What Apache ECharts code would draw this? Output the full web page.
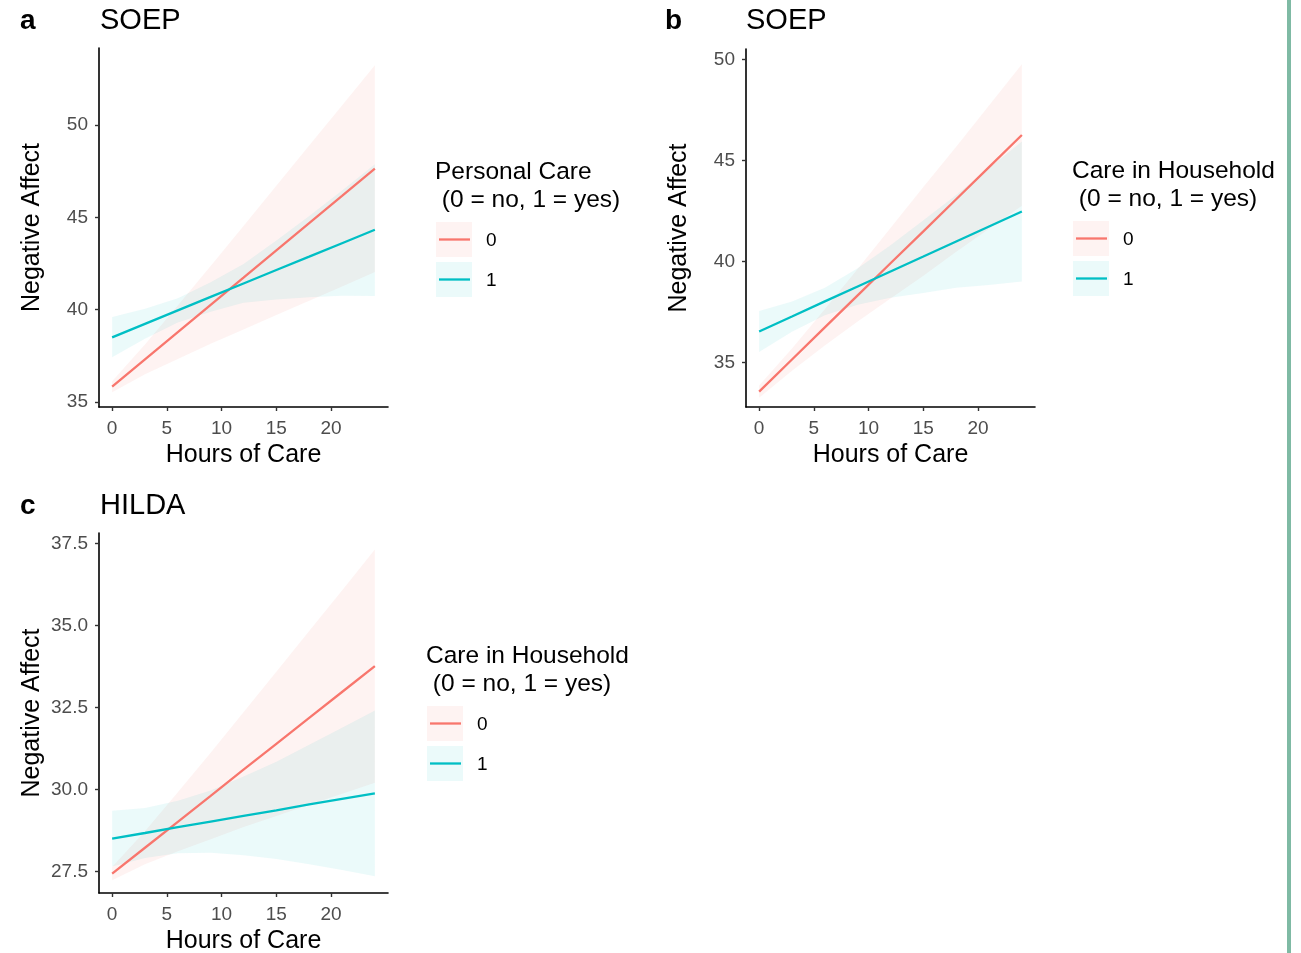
<!DOCTYPE html>
<html>
<head>
<meta charset="utf-8">
<script src="https://cdn.jsdelivr.net/npm/echarts@6/dist/echarts.min.js"></script>
<style>
  html, body { margin: 0; padding: 0; background: #fff; }
  #chart { width: 1301px; height: 953px; }
</style>
</head>
<body>
<div id="chart"></div>
<script>
// Hours of care at which the fitted lines and their confidence bands were read.
const HOURS = [0, 3, 6, 9, 12, 15, 18, 21, 24];

// Panel a: SOEP, personal care (0 = no, 1 = yes)
const A_FIT0 = [35.83, 37.31, 38.78, 40.26, 41.73, 43.21, 44.69, 46.16, 47.64];
const A_LO0  = [35.53, 36.51, 37.33, 38.16, 38.93, 39.71, 40.49, 41.26, 42.04];
const A_HI0  = [36.13, 38.11, 40.23, 42.36, 44.53, 46.71, 48.89, 51.06, 53.24];
const A_FIT1 = [38.50, 39.23, 39.96, 40.69, 41.42, 42.15, 42.87, 43.60, 44.33];
const A_LO1  = [37.43, 38.43, 39.30, 39.89, 40.37, 40.55, 40.67, 40.75, 40.74];
const A_HI1  = [39.60, 40.05, 40.62, 41.49, 42.47, 43.75, 45.07, 46.45, 47.88];

// Panel b: SOEP, care in household
const B_FIT0 = [33.56, 35.15, 36.74, 38.33, 39.92, 41.50, 43.09, 44.68, 46.27];
const B_LO0  = [33.26, 34.60, 35.84, 37.03, 38.17, 39.30, 40.49, 41.63, 42.77];
const B_HI0  = [33.86, 35.70, 37.64, 39.63, 41.67, 43.70, 45.69, 47.73, 49.77];
const B_FIT1 = [36.54, 37.28, 38.03, 38.77, 39.51, 40.25, 41.00, 41.74, 42.48];
const B_LO1  = [35.52, 36.53, 37.35, 37.87, 38.21, 38.45, 38.70, 38.84, 39.01];
const B_HI1  = [37.56, 38.03, 38.71, 39.67, 40.81, 42.05, 43.30, 44.64, 45.95];

// Panel c: HILDA, care in household
const C_FIT0 = [27.43, 28.22, 29.01, 29.80, 30.60, 31.39, 32.18, 32.97, 33.76];
const C_LO0  = [27.23, 27.72, 28.11, 28.48, 28.85, 29.19, 29.53, 29.87, 30.20];
const C_HI0  = [27.63, 28.72, 29.91, 31.12, 32.35, 33.59, 34.83, 36.07, 37.32];
const C_FIT1 = [28.50, 28.67, 28.85, 29.02, 29.19, 29.36, 29.54, 29.71, 29.88];
const C_LO1  = [27.65, 27.91, 28.05, 28.07, 27.99, 27.88, 27.72, 27.54, 27.35];
const C_HI1  = [29.35, 29.43, 29.65, 29.97, 30.39, 30.84, 31.36, 31.88, 32.41];

const X_TICKS = [0, 5, 10, 15, 20];
const A_Y_TICKS = [35, 40, 45, 50];
const B_Y_TICKS = [35, 40, 45, 50];
const C_Y_TICKS = [27.5, 30, 32.5, 35, 37.5];

const GROUPS = ["0", "1"];
const PANEL_LETTERS = ["a", "b", "c"];
const PANEL_TITLES = ["SOEP", "SOEP", "HILDA"];
const LEGEND_TITLES = ["Personal Care", "Care in Household", "Care in Household"];
const LEGEND_SUB = " (0 = no, 1 = yes)";

const RED = "#F8766D";
const TEAL = "#00BFC4";
const RED_FILL = "rgba(248,118,109,0.09)";
const TEAL_FILL = "rgba(0,191,196,0.08)";
const FONT = "'Liberation Sans', Arial, Helvetica, sans-serif";

const panels = [
  { grid: { left: 99, top: 48, width: 289, height: 359 }, y: [34.73, 54.17], ticks: A_Y_TICKS,
    fit: [A_FIT0, A_FIT1], lo: [A_LO0, A_LO1], hi: [A_HI0, A_HI1], dec: 0 },
  { grid: { left: 746, top: 49, width: 289, height: 358 }, y: [32.80, 50.53], ticks: B_Y_TICKS,
    fit: [B_FIT0, B_FIT1], lo: [B_LO0, B_LO1], hi: [B_HI0, B_HI1], dec: 0 },
  { grid: { left: 99, top: 533, width: 289, height: 360 }, y: [26.84, 37.82], ticks: C_Y_TICKS,
    fit: [C_FIT0, C_FIT1], lo: [C_LO0, C_LO1], hi: [C_HI0, C_HI1], dec: 1 },
];

const pairs = (ys) => HOURS.map((h, i) => [h, ys[i]]);

// One polygon per ribbon: walk the upper edge left to right, then the lower
// edge back, every vertex going through the axis scales via api.coord.
function ribbonItem(fill) {
  return (params, api) => {
    if (params.dataIndexInside !== 0) return null;
    const n = params.dataInsideLength;
    const upper = [], lower = [];
    for (let i = 0; i < n; i++) {
      upper.push(api.coord([api.value(0, i), api.value(2, i)]));
      lower.push(api.coord([api.value(0, i), api.value(1, i)]));
    }
    return {
      type: "polygon",
      shape: { points: upper.concat(lower.reverse()) },
      style: { fill },
      silent: true,
    };
  };
}

const grid = [], xAxis = [], yAxis = [], series = [];
panels.forEach((p, k) => {
  // outerBoundsMode off: the grids are placed by hand and must not shrink
  grid.push({ ...p.grid, outerBoundsMode: "none" });
  xAxis.push({
    type: "value", gridIndex: k, min: -1.2, max: 25.2,
    name: "Hours of Care", nameLocation: "middle", nameGap: 36,
    nameTextStyle: { fontSize: 25, color: "#000", fontFamily: FONT },
    axisLine: { onZero: false, lineStyle: { color: "#000", width: 1.6 } },
    axisTick: { customValues: X_TICKS, length: 4, lineStyle: { color: "#333", width: 1.4 } },
    axisLabel: { customValues: X_TICKS, fontSize: 19, color: "#4D4D4D", fontFamily: FONT, margin: 12 },
    splitLine: { show: false },
  });
  yAxis.push({
    type: "value", gridIndex: k, min: p.y[0], max: p.y[1],
    name: "Negative Affect", nameLocation: "middle", nameGap: 54,
    nameTextStyle: { fontSize: 25, color: "#000", fontFamily: FONT },
    axisLine: { onZero: false, lineStyle: { color: "#000", width: 1.6 } },
    axisTick: { customValues: p.ticks, length: 4, lineStyle: { color: "#333", width: 1.4 } },
    axisLabel: { customValues: p.ticks, fontSize: 19, color: "#4D4D4D", fontFamily: FONT, margin: 11,
      formatter: (v) => v.toFixed(p.dec) },
    splitLine: { show: false },
  });
  const fills = [RED_FILL, TEAL_FILL];
  const colors = [RED, TEAL];
  [0, 1].forEach((g) => {
    series.push({
      type: "custom", xAxisIndex: k, yAxisIndex: k, z: 1, silent: true,
      renderItem: ribbonItem(fills[g]),
      encode: { x: 0, y: [1, 2] },
      data: HOURS.map((h, i) => [h, p.lo[g][i], p.hi[g][i]]),
    });
  });
  [0, 1].forEach((g) => {
    series.push({
      type: "line", xAxisIndex: k, yAxisIndex: k, name: GROUPS[g], z: 3,
      data: pairs(p.fit[g]), symbol: "none",
      lineStyle: { color: colors[g], width: 2.3 },
    });
  });
});

// panel letters, titles, legends, and the green page edge
const graphic = [];
const txt = (x, y, text, size, extra = {}) => ({
  type: "text", x, y,
  style: { text, fontSize: size, fontFamily: FONT, fill: "#000", verticalAlign: "middle", ...extra },
});
const letterPos = [[20, 21], [665, 21], [20, 506]];
const titlePos = [[100, 21], [746, 21], [100, 506]];
letterPos.forEach(([x, y], k) => {
  graphic.push(txt(x, y, PANEL_LETTERS[k], 28, { fontWeight: "bold" }));
  graphic.push(txt(titlePos[k][0], titlePos[k][1], PANEL_TITLES[k], 29));
});

const legendPos = [
  { x: 435, y: 172 },
  { x: 1072, y: 171 },
  { x: 426, y: 656 },
];
legendPos.forEach(({ x, y }, k) => {
  graphic.push(txt(x, y, LEGEND_TITLES[k], 24.5));
  graphic.push(txt(x, y + 28, LEGEND_SUB, 24.5));
  [[RED_FILL, RED], [TEAL_FILL, TEAL]].forEach(([fill, stroke], g) => {
    const top = y + 50 + g * 40;
    graphic.push({ type: "rect", shape: { x: x + 1, y: top, width: 36, height: 35 }, style: { fill } });
    graphic.push({
      type: "line", shape: { x1: x + 4, y1: top + 17.5, x2: x + 35, y2: top + 17.5 },
      style: { stroke, lineWidth: 2.3 },
    });
    graphic.push(txt(x + 51, top + 18.5, GROUPS[g], 19));
  });
});

graphic.push({ type: "rect", shape: { x: 1287, y: 0, width: 4, height: 953 }, style: { fill: "#7FBAA4" } });

const chart = echarts.init(document.getElementById("chart"), null, { renderer: "canvas" });
chart.setOption({
  animation: false,
  backgroundColor: "#fff",
  textStyle: { fontFamily: FONT },
  grid, xAxis, yAxis, series, graphic,
});
</script>
</body>
</html>
